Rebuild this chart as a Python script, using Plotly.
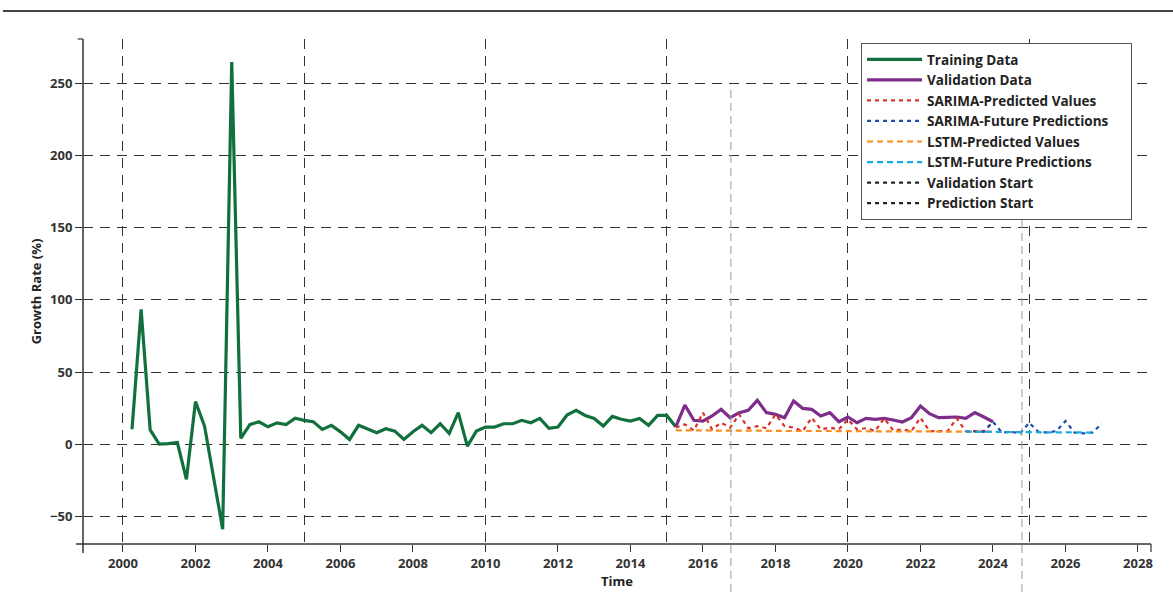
import plotly.graph_objects as go

# Quarterly time stamps and growth rates (%)
train_t = [2000.25 + 0.25 * i for i in range(61)]
train_v = [10.3, 93.5, 9.8, 0.0, 0.3, 1.1, -24.5, 29.5, 12.5, -24.0, -59.0, 265.0,
           4.0, 13.5, 15.5, 12.0, 14.7, 13.5, 18.0, 16.5, 15.5, 10.2, 13.0, 8.5,
           3.2, 13.0, 10.5, 7.9, 10.7, 9.0, 3.2, 8.6, 13.0, 7.9, 14.1, 7.4,
           21.8, -1.4, 9.0, 11.8, 11.8, 14.1, 14.1, 16.5, 14.8, 17.8, 10.9, 11.8,
           20.2, 23.4, 19.9, 17.8, 12.5, 19.2, 17.2, 16.0, 17.8, 13.0, 19.9, 19.9,
           12.0]

valid_t = [2015.25 + 0.25 * i for i in range(36)]
valid_v = [12.0, 27.1, 16.5, 16.0, 19.5, 24.1, 18.3, 21.8, 23.4, 30.4, 21.8, 20.6,
           18.3, 29.9, 24.8, 24.1, 19.5, 21.8, 15.5, 18.8, 14.8, 17.8, 17.2, 17.8,
           16.7, 15.3, 18.3, 26.4, 21.1, 18.3, 18.5, 18.8, 17.8, 21.8, 18.8, 15.5]

sarima_pred = [11.5, 13.7, 9.5, 21.8, 10.2, 14.8, 11.4, 20.6, 11.0, 12.5, 11.0, 20.6,
               12.5, 11.4, 9.0, 18.3, 10.2, 11.4, 10.2, 17.2, 10.2, 11.0, 9.0, 17.9,
               9.5, 10.2, 9.0, 18.3, 9.0, 9.0, 9.0, 17.9, 9.0, 9.0, 9.0, 15.5]

lstm_pred = [9.6, 9.5, 9.5, 9.4, 9.5, 9.4, 9.3, 9.3, 9.4, 9.2, 9.2, 9.3,
             9.1, 9.1, 9.2, 9.0, 9.0, 9.1, 9.0, 8.9, 8.9, 9.0, 8.9, 8.8,
             8.8, 8.9, 8.8, 8.7, 8.7, 8.8, 8.7, 8.6, 8.6, 8.7, 8.6, 8.6]

future_t_sarima = [2023.25 + 0.25 * i for i in range(16)]
sarima_future = [9.0, 8.8, 8.5, 15.5, 8.0, 8.5, 7.5, 14.8, 8.6, 8.0, 9.0, 16.0,
                 8.0, 7.4, 8.0, 14.2]

future_t_lstm = [2023.25 + 0.25 * i for i in range(15)]
lstm_future = [8.6, 8.5, 8.4, 8.4, 8.3, 8.3, 8.2, 8.3, 8.2, 8.2, 8.1, 8.2,
               8.1, 8.1, 8.0]

validation_start = 2016.77
prediction_start = 2024.8

x_ticks = list(range(2000, 2029, 2))
x_grid = list(range(2000, 2026, 5))
y_ticks = list(range(-50, 251, 50))

FONT = "Open Sans"
INK = "#333333"
PAD = "\u00a0" * 5  # extra room on the right side of the legend box

fig = go.Figure()

fig.add_trace(go.Scatter(x=train_t, y=train_v, mode="lines", name="Training Data",
                         line=dict(color="#11703d", width=3.2)))
fig.add_trace(go.Scatter(x=valid_t, y=valid_v, mode="lines", name="Validation Data",
                         line=dict(color="#7d2e8a", width=3.2)))
fig.add_trace(go.Scatter(x=valid_t, y=sarima_pred, mode="lines",
                         name="SARIMA-Predicted Values",
                         line=dict(color="#d9312b", width=2.2, dash="4px,4px")))
fig.add_trace(go.Scatter(x=future_t_sarima, y=sarima_future, mode="lines",
                         name="SARIMA-Future Predictions" + PAD,
                         line=dict(color="#1f4fa8", width=2.2, dash="4px,4px")))
fig.add_trace(go.Scatter(x=valid_t, y=lstm_pred, mode="lines",
                         name="LSTM-Predicted Values",
                         line=dict(color="#f98e1d", width=2.2, dash="6px,4px")))
fig.add_trace(go.Scatter(x=future_t_lstm, y=lstm_future, mode="lines",
                         name="LSTM-Future Predictions",
                         line=dict(color="#17a9e1", width=2.2, dash="6px,4px")))
# Legend keys for the two marker lines (the lines themselves are shapes below)
fig.add_trace(go.Scatter(x=[validation_start], y=[None], mode="lines",
                         name="Validation Start", xaxis="x2",
                         line=dict(color="#222222", width=2.2, dash="4px,4px")))
fig.add_trace(go.Scatter(x=[prediction_start], y=[None], mode="lines",
                         name="Prediction Start", xaxis="x2",
                         line=dict(color="#222222", width=2.2, dash="4px,4px")))

# Vertical marker lines that run past the bottom axis
for xv in (validation_start, prediction_start):
    fig.add_shape(type="line", xref="x", yref="paper", x0=xv, x1=xv,
                  y0=-0.095, y1=0.903, line=dict(color="#9a9a9a", width=1, dash="8px,5px"),
                  layer="above")

# Axis spines extended past the corner, and the rule across the top
fig.add_shape(type="line", xref="paper", yref="paper", x0=-0.0066, x1=1.0, y0=0, y1=0,
              line=dict(color=INK, width=1.5))
fig.add_shape(type="line", xref="paper", yref="paper", x0=0, x1=0, y0=-0.018, y1=1.0,
              line=dict(color=INK, width=1.5))
fig.add_shape(type="line", xref="paper", yref="paper", x0=1.0, x1=1.0, y0=-0.016, y1=0,
              line=dict(color=INK, width=1.2))
fig.add_shape(type="line", xref="paper", yref="paper", x0=-0.005, x1=0, y0=1.0, y1=1.0,
              line=dict(color=INK, width=1.2))
fig.add_shape(type="line", xref="paper", yref="paper", x0=-0.075, x1=1.03, y0=1.0554, y1=1.0554,
              line=dict(color="#444444", width=2))

x_range = [1998.897, 2028.36]

fig.update_layout(
    width=1173, height=607,
    margin=dict(l=83, r=22, t=39, b=63),
    paper_bgcolor="white", plot_bgcolor="white",
    font=dict(family=FONT, color=INK, size=13),
    xaxis=dict(range=x_range, tickmode="array", tickvals=x_ticks,
               ticks="outside", ticklen=7, tickwidth=1.2, tickcolor=INK,
               showgrid=False, zeroline=False, showline=False,
               tickfont=dict(family=FONT, size=13, color=INK, weight=700),
               title=dict(text="Time", standoff=6,
                          font=dict(family=FONT, size=13, color="#222", weight=700))),
    xaxis2=dict(range=x_range, overlaying="x", side="bottom", tickmode="array",
                tickvals=x_grid, showticklabels=False, ticks="",
                showgrid=True, gridcolor=INK, gridwidth=1.2, griddash="10px,7px",
                zeroline=False, showline=False),
    yaxis=dict(range=[-69.3, 281], tickmode="array", tickvals=y_ticks,
               ticks="outside", ticklen=7, tickwidth=1.2, tickcolor=INK,
               showgrid=True, gridcolor=INK, gridwidth=1.2, griddash="10px,7px",
               zeroline=False, showline=False,
               tickfont=dict(family=FONT, size=13, color=INK, weight=700),
               title=dict(text="Growth Rate (%)", standoff=5,
                          font=dict(family=FONT, size=13, color="#222", weight=700))),
    legend=dict(x=0.7285, y=0.992, xanchor="left", yanchor="top",
                bgcolor="white", bordercolor="#555555", borderwidth=1,
                font=dict(family=FONT, size=13.5, color="#222", weight=700),
                itemwidth=55, tracegroupgap=0),
    showlegend=True,
)

fig.write_html("out.html")
